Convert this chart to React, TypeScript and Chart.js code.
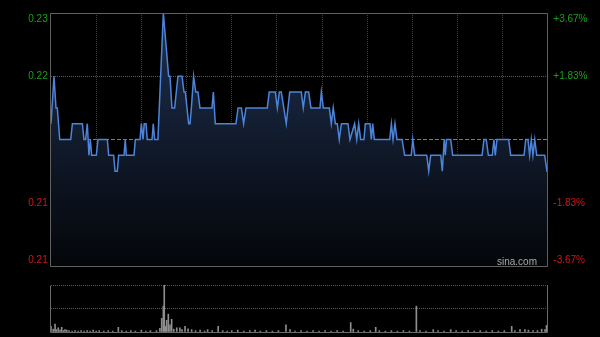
import React, { useEffect, useRef } from 'react';
import { Chart, registerables } from 'chart.js';

Chart.register(...registerables);

// ---- data ----
const prevClose = 0.218;
const priceTicks = [0.21, 0.214, 0.218, 0.222, 0.226];
const timeTicks = [0, 30, 60, 90, 120, 150, 180, 210, 240, 270, 300, 330];
const volTicks = [0, 50, 100];

// minute of the trading day (0..330) and price at that minute
const priceMinutes = [
  0, 2.0, 3.3, 4.2, 5.8, 13.1, 14.2, 20.8, 21.9, 23.0, 24.1, 25.2, 26.1, 27.0, 30.1, 31.2,
  37.4, 38.3, 41.6, 42.5, 44.0, 44.9, 48.5, 49.3, 50.0, 55.1, 56.0, 59.1, 60.0, 61.1, 61.9,
  63.1, 63.9, 67.1, 67.9, 68.8, 71.0, 74.6, 78.1, 79.0, 80.3, 82.1, 84.3, 87.0, 88.3, 89.2,
  91.4, 92.3, 93.2, 94.7, 96.1, 97.6, 98.9, 106.9, 107.8, 109.1, 122.8, 124.2, 126.4, 127.9,
  129.5, 143.6, 144.9, 148.9, 150.3, 151.6, 152.9, 156.2, 158.5, 166.2, 167.5, 168.9, 171.1,
  172.6, 178.6, 179.5, 180.8, 184.8, 186.1, 187.4, 188.8, 190.1, 191.4, 192.8, 197.2, 198.5,
  201.6, 203.0, 204.3, 205.6, 207.8, 208.7, 211.8, 212.7, 213.6, 214.7, 224.9, 226.0, 227.1,
  228.4, 229.7, 233.1, 234.8, 239.2, 240.2, 241.5, 249.5, 250.8, 252.1, 258.8, 259.8, 261.1,
  261.8, 262.6, 265.4, 266.7, 286.2, 287.5, 289.0, 290.4, 293.0, 294.1, 295.0, 296.1, 303.9,
  305.2, 314.1, 315.2, 316.7, 317.8, 318.9, 320.0, 321.2, 322.5, 327.8, 329.3, 330,
];
const priceValues = [
  0.219, 0.222, 0.220, 0.220, 0.218, 0.218, 0.219, 0.219, 0.218, 0.218, 0.219, 0.217, 0.218, 0.217, 0.217, 0.218,
  0.218, 0.217, 0.217, 0.216, 0.216, 0.217, 0.217, 0.218, 0.217, 0.217, 0.218, 0.218, 0.219, 0.218, 0.219,
  0.219, 0.218, 0.218, 0.219, 0.218, 0.218, 0.226, 0.222, 0.222, 0.220, 0.220, 0.222, 0.222, 0.221, 0.221,
  0.219, 0.219, 0.220, 0.222, 0.221, 0.221, 0.220, 0.220, 0.221, 0.219, 0.219, 0.220, 0.220, 0.219,
  0.220, 0.220, 0.221, 0.221, 0.220, 0.221, 0.221, 0.219, 0.221, 0.221, 0.220, 0.221, 0.221,
  0.220, 0.220, 0.221, 0.220, 0.220, 0.219, 0.220, 0.219, 0.219, 0.218, 0.219, 0.219, 0.218,
  0.219, 0.218, 0.219, 0.218, 0.218, 0.219, 0.219, 0.218, 0.219, 0.218, 0.218, 0.219, 0.218,
  0.219, 0.218, 0.218, 0.217, 0.217, 0.218, 0.217, 0.217, 0.216, 0.217, 0.217, 0.216, 0.218,
  0.217, 0.218, 0.218, 0.217, 0.217, 0.218, 0.218, 0.217, 0.217, 0.218, 0.217, 0.218, 0.218,
  0.217, 0.217, 0.218, 0.218, 0.217, 0.218, 0.217, 0.218, 0.217, 0.217, 0.216, 0.216,
];

// volume bars: minute and relative volume
const volMinutes = [
  0, 1.5, 2.7, 3.5, 4.8, 6, 7.1, 8.2, 9.3, 10.5, 12, 14, 16, 18, 20, 22, 24, 26, 28, 30, 32, 35,
  38, 41, 44.7, 47, 50, 53, 56, 60, 63, 66, 70, 72.3, 73.5, 74.6, 75.2, 76, 76.8, 77.9, 79, 80.1,
  81.5, 83.5, 85.6, 87, 89, 91, 93.4, 96, 99, 102, 104, 107, 111, 114, 117, 120, 124, 128, 132,
  135.5, 139, 143, 147, 151, 156, 158.7, 162, 166, 170, 174, 178, 182, 186, 190, 194, 199, 200.7,
  204, 208, 212, 215.6, 218, 222, 226, 230, 234, 238, 242.6, 245, 249, 253.8, 257, 261, 265.4,
  269, 273, 277, 281, 285, 289, 293, 297, 301, 305.9, 308, 311.4, 314.7, 317, 320, 323, 325.8,
  328, 329, 330,
];
const volValues = [
  12, 6, 17, 5, 9, 4, 10, 3, 5, 4, 3, 2, 3, 2, 3, 2, 3, 2, 4, 2, 3, 2,
  3, 2, 10, 3, 2, 3, 2, 4, 2, 3, 3, 8, 29, 55, 100, 12, 25, 38, 15, 27,
  6, 9, 9, 5, 12, 7, 5, 3, 4, 2, 5, 3, 12, 3, 2, 3, 4, 2, 3,
  4, 2, 3, 2, 3, 15, 5, 2, 3, 2, 3, 2, 3, 2, 3, 2, 20, 6,
  3, 2, 3, 10, 3, 2, 3, 2, 3, 2, 55, 3, 2, 5, 3, 2, 5,
  3, 2, 3, 2, 3, 2, 3, 2, 3, 12, 3, 5, 5, 4, 3, 3, 6,
  5, 14, 14,
];

const FONT = '10px "Liberation Sans", Arial, sans-serif';

const framePlugin = {
  id: 'frame',
  afterDraw(chart: any) {
    const { ctx, chartArea: a } = chart;
    ctx.save();
    ctx.strokeStyle = '#606060';
    ctx.lineWidth = 1;
    ctx.beginPath();
    const l = Math.floor(a.left) - 0.5;
    const r = Math.floor(a.right) - 0.5;
    const t = Math.floor(a.top) + 0.5;
    const b = Math.floor(a.bottom) + 0.5;
    ctx.moveTo(l, t);
    ctx.lineTo(r, t);
    ctx.lineTo(r, b);
    ctx.lineTo(l, b);
    ctx.closePath();
    ctx.stroke();
    ctx.restore();
  },
};

const volFramePlugin = {
  id: 'volframe',
  afterDraw(chart: any) {
    const { ctx, chartArea: a } = chart;
    ctx.save();
    ctx.strokeStyle = '#6a6a6a';
    ctx.lineWidth = 1;
    const l = Math.floor(a.left) - 0.5;
    const r = Math.floor(a.right) - 0.5;
    const t = Math.floor(a.top) + 0.5;
    const b = Math.floor(a.bottom) + 0.5;
    ctx.beginPath();
    ctx.moveTo(l, t);
    ctx.lineTo(l, b);
    ctx.lineTo(r, b);
    ctx.lineTo(r, t);
    ctx.stroke();
    ctx.restore();
  },
};

const labelPlugin = {
  id: 'pricelabels',
  afterDraw(chart: any) {
    const { ctx, chartArea: a } = chart;
    const y = chart.scales.y;
    ctx.save();
    ctx.font = FONT;
    ctx.textBaseline = 'middle';
    priceTicks.forEach((v) => {
      if (v === prevClose) return;
      let py = y.getPixelForValue(v);
      py = Math.min(Math.max(py, a.top + 5.8), a.bottom - 6);
      ctx.fillStyle = v > prevClose ? '#1b9f1b' : '#cf1818';
      ctx.textAlign = 'right';
      ctx.fillText(v.toFixed(2), a.left - 3.3, py);
      const pct = ((v - prevClose) / prevClose) * 100;
      ctx.textAlign = 'left';
      ctx.fillText((pct > 0 ? '+' : '') + pct.toFixed(2) + '%', a.right + 5.3, py);
    });
    ctx.fillStyle = '#a8a8a8';
    ctx.textAlign = 'right';
    ctx.textBaseline = 'alphabetic';
    ctx.fillText('sina.com', a.right - 11, a.bottom - 1.5);
    ctx.restore();
  },
};

export default function App() {
  const priceRef = useRef<HTMLCanvasElement>(null);
  const volRef = useRef<HTMLCanvasElement>(null);

  useEffect(() => {
    const pc = new Chart(priceRef.current as HTMLCanvasElement, {
      type: 'line',
      data: {
        datasets: [
          {
            label: 'price',
            data: priceMinutes.map((m, i) => ({ x: m, y: priceValues[i] })),
            borderColor: '#4d84d9',
            borderWidth: 1.5,
            pointRadius: 0,
            tension: 0,
            fill: 'start',
            backgroundColor: (c: any) => {
              const ch = c.chart;
              const a = ch.chartArea;
              if (!a) return 'rgba(20,35,60,0.6)';
              const g = ch.ctx.createLinearGradient(0, a.top, 0, a.bottom);
              g.addColorStop(0, '#1e3050');
              g.addColorStop(1, '#040609');
              return g;
            },
            order: 0,
          },
          {
            label: 'prev',
            data: [
              { x: 0, y: prevClose },
              { x: 330, y: prevClose },
            ],
            borderColor: '#7c7c7c',
            borderWidth: 1,
            borderDash: [4, 2],
            pointRadius: 0,
            fill: false,
            order: 1,
          },
        ],
      },
      options: {
        animation: false,
        responsive: false,
        devicePixelRatio: 1,
        layout: { padding: { top: 13, bottom: 9, left: 0, right: 0 } },
        plugins: { legend: { display: false }, tooltip: { enabled: false } },
        scales: {
          x: {
            type: 'linear',
            min: 0,
            max: 330,
            afterBuildTicks: (s: any) => {
              s.ticks = timeTicks.map((v) => ({ value: v }));
            },
            afterFit: (s: any) => {
              s.height = 0;
            },
            ticks: { display: false },
            grid: {
              color: (c: any) => (c.tick && (c.tick.value === 0 || c.tick.value === 330) ? 'rgba(0,0,0,0)' : '#3c3c3c'),
              drawTicks: false,
              lineWidth: 1,
            },
            border: { display: false, dash: [1, 1] },
          },
          y: {
            type: 'linear',
            position: 'left',
            min: 0.21,
            max: 0.226,
            afterBuildTicks: (s: any) => {
              s.ticks = priceTicks.map((v) => ({ value: v }));
            },
            afterFit: (s: any) => {
              s.width = 51;
            },
            ticks: { display: false },
            grid: {
              color: (c: any) => {
                const v = c.tick ? c.tick.value : 0;
                return v === 0.222 || v === 0.214 ? '#5e5e5e' : 'rgba(0,0,0,0)';
              },
              drawTicks: false,
            },
            border: { display: false, dash: [1, 1] },
          },
          y1: {
            type: 'linear',
            position: 'right',
            min: 0.21,
            max: 0.226,
            afterFit: (s: any) => {
              s.width = 52;
            },
            ticks: { display: false },
            grid: { display: false },
            border: { display: false },
          },
        },
      },
      plugins: [framePlugin, labelPlugin],
    } as any);

    const vc = new Chart(volRef.current as HTMLCanvasElement, {
      type: 'bar',
      data: {
        datasets: [
          {
            label: 'volume',
            data: volMinutes.map((m, i) => ({ x: m, y: volValues[i] })),
            backgroundColor: '#8e8e8e',
            borderWidth: 0,
            barThickness: 1,
          },
        ],
      },
      options: {
        animation: false,
        responsive: false,
        devicePixelRatio: 1,
        layout: { padding: { top: 10, bottom: 5, left: 0, right: 52 } },
        plugins: { legend: { display: false }, tooltip: { enabled: false } },
        scales: {
          x: {
            type: 'linear',
            min: 0,
            max: 330,
            offset: false,
            ticks: { display: false },
            grid: { display: false },
            border: { display: false },
            afterFit: (s: any) => {
              s.height = 0;
            },
          },
          y: {
            type: 'linear',
            min: 0,
            max: 100,
            afterBuildTicks: (s: any) => {
              s.ticks = volTicks.map((v) => ({ value: v }));
            },
            afterFit: (s: any) => {
              s.width = 51;
            },
            ticks: { display: false },
            grid: {
              color: (c: any) => (c.tick && c.tick.value === 0 ? 'rgba(0,0,0,0)' : '#5a5a5a'),
              drawTicks: false,
            },
            border: { display: false, dash: [1, 1] },
          },
        },
      },
      plugins: [volFramePlugin],
    } as any);

    return () => {
      pc.destroy();
      vc.destroy();
    };
  }, []);

  return (
    <div
      style={{
        position: 'fixed',
        left: 0,
        top: 0,
        width: 600,
        height: 337,
        background: '#000',
        overflow: 'hidden',
      }}
    >
      <canvas
        ref={priceRef}
        width={600}
        height={275}
        style={{ position: 'absolute', left: 0, top: 0, width: 600, height: 275 }}
      />
      <canvas
        ref={volRef}
        width={600}
        height={62}
        style={{ position: 'absolute', left: 0, top: 275, width: 600, height: 62 }}
      />
    </div>
  );
}
